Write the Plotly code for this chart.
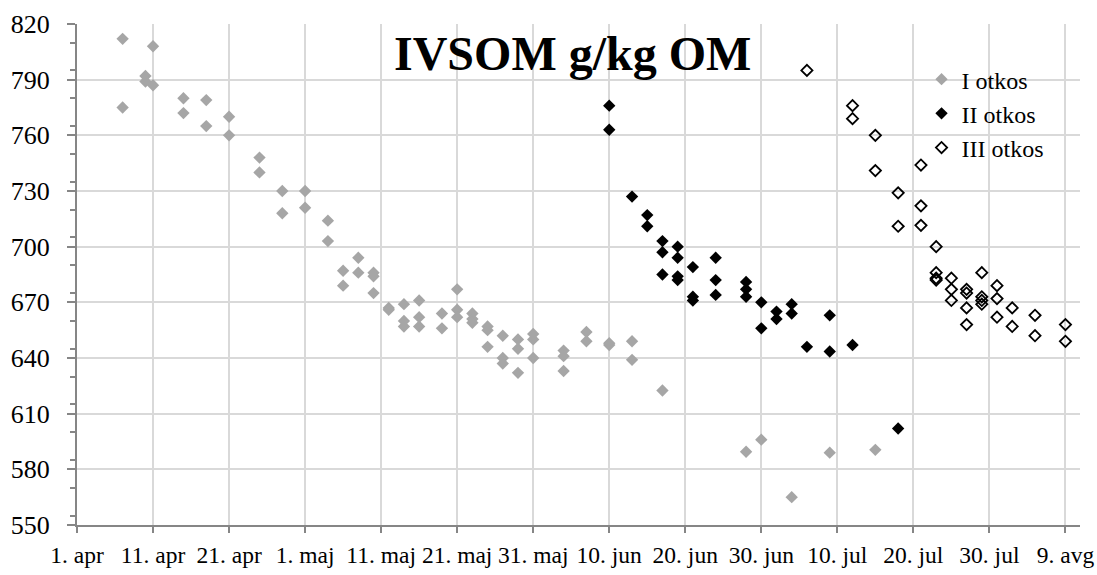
import plotly.graph_objects as go

# ---------------- data ----------------
i_dates = ["2013-04-07", "2013-04-07", "2013-04-10", "2013-04-10", "2013-04-11", "2013-04-11",
           "2013-04-15", "2013-04-15", "2013-04-18", "2013-04-18", "2013-04-21", "2013-04-21",
           "2013-04-25", "2013-04-25", "2013-04-28", "2013-04-28", "2013-05-01", "2013-05-01",
           "2013-05-04", "2013-05-04", "2013-05-06", "2013-05-06", "2013-05-08", "2013-05-08",
           "2013-05-10", "2013-05-10", "2013-05-10", "2013-05-12", "2013-05-12",
           "2013-05-14", "2013-05-14", "2013-05-14", "2013-05-16", "2013-05-16", "2013-05-16",
           "2013-05-19", "2013-05-19", "2013-05-21", "2013-05-21", "2013-05-21",
           "2013-05-23", "2013-05-23", "2013-05-23", "2013-05-25", "2013-05-25", "2013-05-25",
           "2013-05-27", "2013-05-27", "2013-05-27", "2013-05-29", "2013-05-29", "2013-05-29",
           "2013-05-31", "2013-05-31", "2013-05-31", "2013-06-04", "2013-06-04", "2013-06-04",
           "2013-06-07", "2013-06-07", "2013-06-10", "2013-06-10", "2013-06-13", "2013-06-13",
           "2013-06-17", "2013-06-28", "2013-06-30", "2013-07-04", "2013-07-09", "2013-07-15"]
i_values = [812, 775, 792, 789, 808, 787,
            780, 772, 779, 765, 770, 760,
            748, 740, 730, 718, 730, 721,
            714, 703, 687, 679, 694, 686,
            686, 684, 675, 667, 666,
            669, 660, 657, 671, 662, 657,
            664, 656, 677, 666, 662,
            664, 661, 659, 657, 655, 646,
            652, 640, 637, 650, 645, 632,
            653, 650, 640, 644, 641, 633,
            654, 649, 648, 647, 649, 639,
            622.5, 589.5, 596, 565, 589, 590.5]

ii_dates = ["2013-06-10", "2013-06-10", "2013-06-13", "2013-06-15", "2013-06-15",
            "2013-06-17", "2013-06-17", "2013-06-17",
            "2013-06-19", "2013-06-19", "2013-06-19", "2013-06-19",
            "2013-06-21", "2013-06-21", "2013-06-21",
            "2013-06-24", "2013-06-24", "2013-06-24",
            "2013-06-28", "2013-06-28", "2013-06-28",
            "2013-06-30", "2013-06-30", "2013-07-02", "2013-07-02",
            "2013-07-04", "2013-07-04", "2013-07-06", "2013-07-09", "2013-07-09",
            "2013-07-12", "2013-07-18"]
ii_values = [776, 763, 727, 717, 711,
             703, 697, 685,
             700, 694, 684, 682,
             689, 673, 671,
             694, 682, 674,
             681, 677, 673,
             670, 656, 665, 661,
             669, 664, 646, 663, 643.5,
             647, 602]

iii_dates = ["2013-07-06", "2013-07-12", "2013-07-12", "2013-07-15", "2013-07-15",
             "2013-07-18", "2013-07-18", "2013-07-21", "2013-07-21", "2013-07-21",
             "2013-07-23", "2013-07-23", "2013-07-23", "2013-07-23",
             "2013-07-25", "2013-07-25", "2013-07-25",
             "2013-07-27", "2013-07-27", "2013-07-27", "2013-07-27",
             "2013-07-29", "2013-07-29", "2013-07-29", "2013-07-29",
             "2013-07-31", "2013-07-31", "2013-07-31",
             "2013-08-02", "2013-08-02", "2013-08-05", "2013-08-05",
             "2013-08-09", "2013-08-09"]
iii_values = [795, 776, 769, 760, 741,
              729, 711, 744, 722, 711.5,
              700, 686, 683, 682,
              683, 677, 671,
              677, 675, 667, 658,
              686, 673, 671, 669,
              679, 672, 662,
              667, 657, 663, 652,
              658, 649]

series_names = ["I otkos", "II otkos", "III otkos"]

tick_dates = ["2013-04-01", "2013-04-11", "2013-04-21", "2013-05-01", "2013-05-11",
              "2013-05-21", "2013-05-31", "2013-06-10", "2013-06-20", "2013-06-30",
              "2013-07-10", "2013-07-20", "2013-07-30", "2013-08-09"]
tick_labels = ["1. apr", "11. apr", "21. apr", "1. maj", "11. maj", "21. maj", "31. maj",
               "10. jun", "20. jun", "30. jun", "10. jul", "20. jul", "30. jul", "9. avg"]

title_text = "IVSOM g/kg OM"

# ---------------- figure ----------------
FONT = "Liberation Serif, Times New Roman, serif"
AXIS_GRAY = "#868686"
GRID = "#d9d9d9"

fig = go.Figure()
fig.add_trace(go.Scatter(x=i_dates, y=i_values, mode="markers", name=series_names[0],
                         marker=dict(symbol="diamond", size=9.5, color="#a6a6a6")))
fig.add_trace(go.Scatter(x=ii_dates, y=ii_values, mode="markers", name=series_names[1],
                         marker=dict(symbol="diamond", size=9.5, color="#000000")))
fig.add_trace(go.Scatter(x=iii_dates, y=iii_values, mode="markers", name=series_names[2],
                         marker=dict(symbol="diamond-open", size=8.6, color="#000000",
                                     line=dict(width=1.8, color="#000000"))))

fig.update_layout(
    width=1097, height=575,
    margin=dict(l=77, r=17, t=24, b=50, autoexpand=False),
    paper_bgcolor="white", plot_bgcolor="white",
    font=dict(family=FONT, color="black", size=23),
    showlegend=True,
    legend=dict(x=0.842, y=0.934, xanchor="left", yanchor="top",
                bgcolor="rgba(0,0,0,0)", font=dict(family=FONT, size=24, color="black"),
                itemwidth=30, tracegroupgap=0),
    xaxis=dict(type="date", range=["2013-04-01", "2013-08-10 22:00"],
               tickvals=tick_dates, ticktext=tick_labels, automargin=False,
               showgrid=True, gridcolor=GRID, gridwidth=2,
               showline=True, linecolor=AXIS_GRAY, linewidth=2,
               ticks="outside", ticklen=6, tickcolor=AXIS_GRAY, tickwidth=1.5,
               tickfont=dict(family=FONT, size=23.5, color="black"),
               ticklabelstandoff=2, zeroline=False),
    yaxis=dict(range=[550, 820], tick0=550, dtick=30, automargin=False,
               showgrid=True, gridcolor=GRID, gridwidth=2,
               showline=True, linecolor=AXIS_GRAY, linewidth=2,
               ticks="outside", ticklen=8, tickcolor=AXIS_GRAY, tickwidth=1.5,
               minor=dict(ticks="outside", ticklen=5, dtick=15, tickcolor=AXIS_GRAY,
                          showgrid=False),
               tickfont=dict(family=FONT, size=26, color="black"),
               ticklabelstandoff=12, zeroline=False),
    shapes=[
        dict(type="rect", xref="paper", yref="paper", x0=0.307, x1=0.679, y0=0.892, y1=0.998,
             fillcolor="white", line=dict(width=0), layer="between"),
        dict(type="rect", xref="paper", yref="paper", x0=0.860, x1=0.982, y0=0.7345, y1=0.894,
             fillcolor="white", line=dict(width=0), layer="between"),
    ],
    annotations=[
        dict(text="<b>" + title_text + "</b>", xref="paper", yref="paper",
             x=0.4945, y=0.941, xanchor="center", yanchor="middle", showarrow=False,
             font=dict(family=FONT, size=48, color="black")),
    ],
)

fig.write_html("out.html", config={"displayModeBar": False},
               post_script="document.body.style.margin='0px';"
                           "document.body.style.overflow='hidden';")
